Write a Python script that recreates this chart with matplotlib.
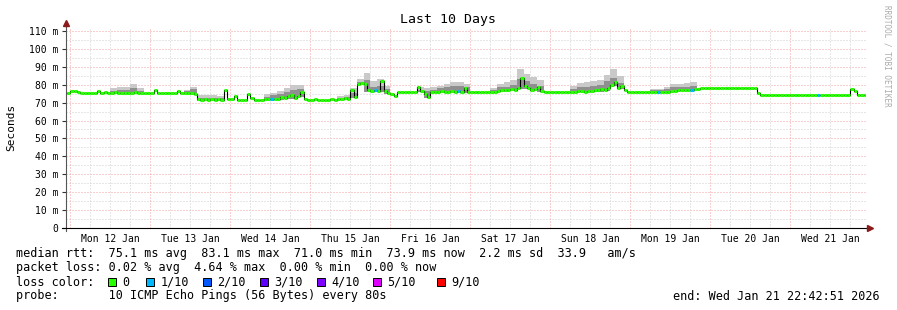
import matplotlib
matplotlib.use("Agg")
import matplotlib.pyplot as plt
from matplotlib.patches import Rectangle
import numpy as np

# median rtt in ms, one value per hour, first value = hour -2 (Mon 12 Jan 00:00 = hour 0)
median = [
    75.5, 75.5,
    # Mon 12 Jan
    76.3, 76.5, 75.8, 75.5, 75.5, 75.6, 75.5, 75.4, 76.5, 75.5, 76.0, 75.6,
    75.5, 75.7, 75.5, 75.4, 75.6, 75.5, 75.5, 75.7, 75.5, 75.6, 75.5, 75.5,
    # Tue 13 Jan
    75.5, 76.8, 75.5, 75.5, 75.6, 75.5, 75.5, 75.6, 76.3, 75.5, 75.5, 75.6,
    75.3, 74.8, 71.8, 71.6, 71.8, 71.7, 71.8, 71.6, 71.8, 71.7, 77.0, 71.8,
    # Wed 14 Jan
    71.8, 73.6, 71.2, 71.2, 71.3, 75.0, 72.5, 71.5, 71.6, 71.5, 71.8, 71.9,
    72.0, 72.3, 72.2, 73.0, 72.5, 73.5, 74.0, 72.5, 73.8, 76.0, 72.0, 71.5,
    # Thu 15 Jan
    71.3, 71.8, 71.3, 71.4, 71.2, 71.3, 72.0, 71.5, 72.3, 72.0, 72.6, 72.3,
    76.8, 73.4, 80.5, 81.2, 80.3, 76.8, 76.6, 76.8, 76.5, 82.0, 76.7, 75.6,
    # Fri 16 Jan
    75.0, 73.8, 75.8, 75.8, 75.7, 75.8, 75.8, 75.9, 79.0, 76.5, 74.8, 73.4,
    76.0, 76.2, 76.0, 76.3, 76.0, 76.2, 76.4, 76.2, 76.5, 76.0, 78.3, 75.7,
    # Sat 17 Jan
    75.7, 75.7, 75.8, 75.7, 75.7, 75.8, 75.8, 76.2, 76.5, 77.0, 76.8, 77.0,
    77.5, 77.3, 78.0, 84.0, 79.5, 78.0, 77.0, 77.5, 78.5, 76.5, 75.8, 75.8,
    # Sun 18 Jan
    75.8, 75.8, 76.2, 75.8, 75.8, 75.8, 75.9, 76.0, 76.3, 76.5, 76.2, 76.5,
    76.5, 77.0, 76.8, 77.5, 77.0, 78.0, 80.0, 81.5, 78.0, 79.5, 77.0, 75.8,
    # Mon 19 Jan
    75.8, 75.8, 75.8, 75.8, 75.8, 75.8, 75.8, 75.8, 75.8, 76.0, 76.0, 76.2,
    76.3, 76.5, 77.0, 77.0, 77.2, 77.0, 77.3, 77.5, 77.8, 78.3, 78.3, 78.3,
    # Tue 20 Jan
    78.3, 78.3, 78.3, 78.3, 78.3, 78.3, 78.3, 78.3, 78.3, 78.3, 78.3, 78.3,
    78.3, 78.3, 75.2, 74.3, 74.3, 74.3, 74.3, 74.3, 74.3, 74.3, 74.3, 74.3,
    # Wed 21 Jan
    74.3, 74.3, 74.3, 74.3, 74.3, 74.3, 74.3, 74.2, 74.3, 74.3, 74.3, 74.3,
    74.0, 74.3, 74.3, 74.3, 74.3, 74.3, 77.8, 76.4, 74.3, 74.3, 74.3, 74.3,
]
# hours where 1/10 pings were lost
loss_hours = [60, 91, 116, 176, 186, 224]

# smoke (ping spread), 2 hour bins starting at these hours
smoke_hours = [12, 14, 16, 18, 20, 34, 36, 38, 40, 42, 44,
               58, 60, 62, 64, 66, 68,
               80, 82, 84, 86, 88, 90, 92, 94,
               104, 106, 108, 110, 112, 114, 116, 118,
               126, 128, 130, 132, 134, 136, 138, 140,
               150, 152, 154, 156, 158, 160, 162, 164,
               174, 176, 178, 180, 182, 184, 186]
smoke_hi = [78.0, 78.8, 79.0, 80.2, 78.3, 77.0, 79.0, 74.3, 74.0, 74.0, 73.8,
            75.0, 75.5, 76.7, 78.0, 79.8, 79.8,
            73.5, 74.5, 78.0, 83.0, 86.5, 82.0, 83.0, 79.5,
            78.5, 78.0, 78.5, 79.5, 80.5, 81.5, 81.7, 80.5,
            78.0, 80.5, 81.5, 82.5, 89.0, 86.0, 84.5, 82.5,
            79.5, 81.0, 81.5, 82.0, 82.5, 85.5, 89.0, 85.0,
            77.5, 77.8, 78.5, 80.5, 80.5, 81.0, 81.5]
smoke_mid = [76.5, 76.8, 77.0, 78.0, 76.5, 76.3, 77.5, 72.8, 72.8, 72.6, 72.6,
             73.3, 74.0, 75.0, 76.0, 77.0, 77.5,
             72.8, 73.3, 75.5, 81.5, 82.5, 79.0, 79.5, 77.5,
             77.0, 76.5, 77.3, 78.0, 78.5, 79.3, 79.5, 78.5,
             76.8, 78.5, 79.0, 80.0, 83.0, 82.0, 80.5, 79.5,
             77.5, 78.5, 79.0, 79.5, 80.0, 82.0, 84.0, 81.0,
             76.8, 77.0, 77.5, 78.5, 78.5, 79.0, 79.5]

day_labels = ['Mon 12 Jan', 'Tue 13 Jan', 'Wed 14 Jan', 'Thu 15 Jan', 'Fri 16 Jan',
              'Sat 17 Jan', 'Sun 18 Jan', 'Mon 19 Jan', 'Tue 20 Jan', 'Wed 21 Jan']
loss_names = ['0', '1/10', '2/10', '3/10', '4/10', '5/10', '9/10']
loss_colors = ['#26ff00', '#00b8ff', '#0059ff', '#5e00ff', '#7e00ff', '#dd00ff', '#ff0000']

W, H = 897, 310
mono = 'DejaVu Sans Mono'
fig = plt.figure(figsize=(W / 100, H / 100), dpi=100)
ax_left, ax_bot, ax_w, ax_h = 66, 228, 800, 200.6
ax = fig.add_axes([ax_left / W, (H - ax_bot) / H, ax_w / W, ax_h / H])
t_start, t_end = -1.286, 238.714
ax.set_xlim(t_start, t_end)
ax.set_ylim(0, 112)
for s in ax.spines.values():
    s.set_visible(False)

# grid
red, grey = '#f4a0a0', '#cfcfcf'
for v in range(5, 112, 5):
    ax.axhline(v, color=red if v % 10 == 0 else grey, lw=0.72,
               linestyle=(0, (1, 2)), zorder=0)
for h in range(0, 239, 6):
    ax.axvline(h, color=red if h % 24 == 0 else grey, lw=0.72,
               linestyle=(0, (1, 2)), zorder=0)

# smoke
med = np.array(median)
hours = np.arange(-2, -2 + len(med))
base = [min(med[h + 2], med[h + 3]) - 0.6 for h in smoke_hours]
ax.bar(smoke_hours, np.array(smoke_hi) - base, bottom=base, width=2, align='edge',
       color='#c9c9c9', linewidth=0, zorder=1)
ax.bar(smoke_hours, np.array(smoke_mid) - base, bottom=base, width=2, align='edge',
       color='#8f8f8f', linewidth=0, zorder=1)

# median: thin black step + loss coloured band
ax.step(np.append(hours, hours[-1] + 1), np.append(med, med[-1]), where='post',
        color='black', lw=0.8, zorder=2)
cols = [loss_colors[1] if h in loss_hours else loss_colors[0] for h in hours]
ax.hlines(med, hours, hours + 1, colors=cols, lw=2.2, zorder=3, capstyle='butt')

# axes ticks
yt = list(range(0, 111, 10))
ax.set_yticks(yt)
ax.set_yticklabels(['0'] + ['%d m' % v for v in yt[1:]], family=mono, fontsize=7)
ax.tick_params(axis='y', length=3, width=0.8, pad=2.5, color='#333333')
ax.set_xticks([12 + 24 * i for i in range(10)])
ax.set_xticklabels(day_labels, family=mono, fontsize=7)
ax.tick_params(axis='x', length=0, pad=4)

# axis lines with arrows
fy = lambda py: (ax_bot - py) / ax_h
fx = lambda px: (px - ax_left) / ax_w
ax.plot([0, 0], [fy(231), fy(24)], color='#555555', lw=0.8, transform=ax.transAxes,
        clip_on=False, zorder=4)
ax.plot([fx(62), fx(869)], [0, 0], color='black', lw=0.8, transform=ax.transAxes,
        clip_on=False, zorder=4)
ax.plot([0], [fy(23)], marker='^', ms=4, color='#8b1a1a', transform=ax.transAxes,
        clip_on=False, zorder=5)
ax.plot([fx(870)], [0], marker='>', ms=4, color='#8b1a1a', transform=ax.transAxes,
        clip_on=False, zorder=5)

# texts
def ptext(x, y, s, **kw):
    kw.setdefault('family', mono)
    kw.setdefault('fontsize', 8.5)
    kw.setdefault('va', 'center')
    fig.text(x / W, 1 - y / H, s, **kw)

ptext(448, 19, 'Last 10 Days', ha='center', fontsize=9.5)
ptext(11, 127, 'Seconds', ha='center', rotation=90, fontsize=8)
ptext(887, 5, 'RRDTOOL / TOBI OETIKER', ha='center', va='top', rotation=270,
      fontsize=5.5, color='#aaaaaa')

ptext(16, 254, 'median rtt:  75.1 ms avg  83.1 ms max  71.0 ms min  73.9 ms now  2.2 ms sd  33.9   am/s')
ptext(16, 268, 'packet loss: 0.02 % avg  4.64 % max  0.00 % min  0.00 % now')
ptext(16, 282, 'loss color:')
box_x = [108, 146, 203, 260, 317, 373, 437]
for bx, name, c in zip(box_x, loss_names, loss_colors):
    fig.add_artist(Rectangle((bx / W, 1 - 286 / H), 7.5 / W, 8 / H, transform=fig.transFigure,
                             facecolor=c, edgecolor='black', lw=0.7))
    ptext(bx + 14.5, 282, name)
ptext(16, 296, 'probe:       10 ICMP Echo Pings (56 Bytes) every 80s')
ptext(880, 296, 'end: Wed Jan 21 22:42:51 2026', ha='right')

fig.savefig('out.png', dpi=100, facecolor='white')
